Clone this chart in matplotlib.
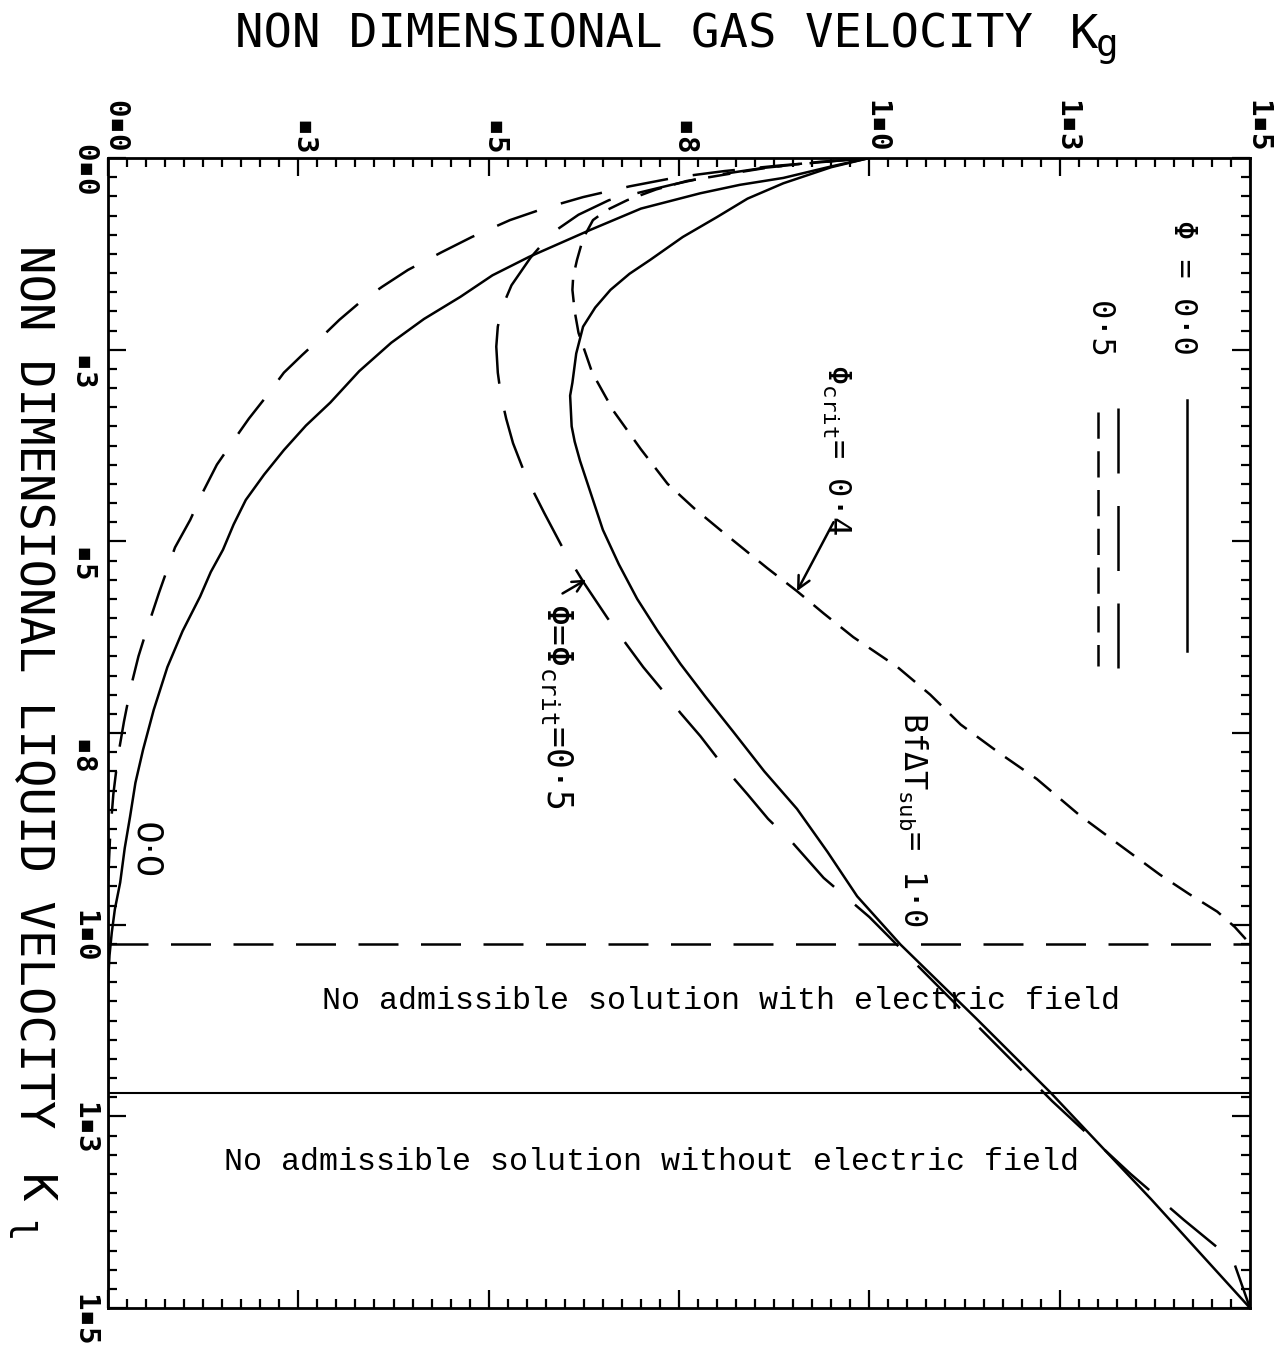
import numpy as np
import matplotlib
matplotlib.use("Agg")
import matplotlib.pyplot as plt
from matplotlib.ticker import MultipleLocator
from matplotlib.transforms import offset_copy

# ---------------- data (Kg, Kl) ----------------
# Phi = 0.0, outer curve (labelled 0.0)
kg_phi0_outer = [1.0, 0.95, 0.887, 0.83, 0.778, 0.70, 0.633, 0.553, 0.505, 0.463, 0.415, 0.372,
                 0.33, 0.292, 0.26, 0.231, 0.205, 0.181, 0.165, 0.151, 0.135, 0.121, 0.098,
                 0.078, 0.06, 0.046, 0.036, 0.029, 0.022, 0.016, 0.009, 0.005, 0.002, 0.0, 0.0]
kl_phi0_outer = [0.0, 0.011, 0.026, 0.035, 0.046, 0.066, 0.094, 0.129, 0.153, 0.181, 0.21, 0.241,
                 0.278, 0.319, 0.349, 0.381, 0.413, 0.446, 0.478, 0.511, 0.54, 0.572, 0.617,
                 0.664, 0.72, 0.772, 0.815, 0.859, 0.90, 0.945, 0.98, 1.01, 1.04, 1.076, 1.5]

# Phi = 0.5, outer curve
kg_phi5_outer = [1.0, 0.94, 0.88, 0.81, 0.748, 0.685, 0.624, 0.575, 0.528, 0.478, 0.438, 0.394,
                 0.360, 0.33, 0.304, 0.279, 0.255, 0.231, 0.204, 0.185, 0.168, 0.143, 0.125,
                 0.108, 0.088, 0.067, 0.051, 0.04, 0.03, 0.021, 0.013, 0.007, 0.003, 0.0, 0.0]
kl_phi5_outer = [0.0, 0.005, 0.01, 0.017, 0.025, 0.037, 0.051, 0.065, 0.081, 0.103, 0.123, 0.146,
                 0.168, 0.189, 0.211, 0.235, 0.257, 0.280, 0.316, 0.34, 0.364, 0.400, 0.435,
                 0.472, 0.508, 0.567, 0.615, 0.65, 0.69, 0.735, 0.781, 0.83, 0.88, 0.945, 1.5]

# Phi = 0.0, BfdTsub = 1.0
kg_phi0_sub = [1.0, 0.95, 0.887, 0.84, 0.800, 0.755, 0.712, 0.685, 0.660, 0.64, 0.624, 0.615,
               0.610, 0.607, 0.609, 0.613, 0.620, 0.635, 0.650, 0.671, 0.695, 0.722, 0.752,
               0.785, 0.821, 0.862, 0.905, 0.945, 0.984, 1.041, 1.14, 1.238, 1.37, 1.5]
kl_phi0_sub = [0.0, 0.012, 0.033, 0.053, 0.077, 0.103, 0.133, 0.151, 0.172, 0.195, 0.220, 0.255,
               0.293, 0.310, 0.35, 0.37, 0.395, 0.44, 0.485, 0.53, 0.575, 0.617, 0.660,
               0.703, 0.748, 0.80, 0.849, 0.905, 0.963, 1.026, 1.122, 1.219, 1.358, 1.5]

# Phi = Phi_crit = 0.5, BfdTsub = 1.0
kg_phi5_sub = [1.0, 0.93, 0.86, 0.80, 0.74, 0.69, 0.658, 0.618, 0.583, 0.555, 0.530, 0.518,
               0.512, 0.510, 0.512, 0.516, 0.523, 0.532, 0.55, 0.573, 0.598, 0.625, 0.656,
               0.68, 0.703, 0.728, 0.752, 0.778, 0.813, 0.84, 0.867, 0.899, 0.940, 1.00, 1.04,
               1.14, 1.24, 1.343, 1.413, 1.478, 1.5]
kl_phi5_sub = [0.0, 0.006, 0.013, 0.022, 0.035, 0.047, 0.055, 0.074, 0.098, 0.13, 0.166, 0.194,
               0.22, 0.246, 0.28, 0.309, 0.34, 0.372, 0.418, 0.463, 0.51, 0.554, 0.600,
               0.633, 0.664, 0.694, 0.724, 0.754, 0.799, 0.83, 0.862, 0.893, 0.939, 0.99, 1.03,
               1.13, 1.23, 1.325, 1.385, 1.438, 1.5]

# Phi_crit = 0.4
kg_crit4 = [1.0, 0.935, 0.87, 0.82, 0.76, 0.72, 0.682, 0.655, 0.637, 0.624, 0.616, 0.611,
            0.610, 0.613, 0.618, 0.636, 0.664, 0.70, 0.735, 0.77, 0.804, 0.835, 0.866, 0.905,
            0.94, 0.979, 1.037, 1.08, 1.120, 1.172, 1.22, 1.277, 1.33, 1.382, 1.42, 1.457, 1.48,
            1.5]
kl_crit4 = [0.0, 0.005, 0.012, 0.02, 0.03, 0.041, 0.055, 0.068, 0.081, 0.105, 0.133, 0.155,
            0.172, 0.20, 0.228, 0.28, 0.330, 0.38, 0.425, 0.457, 0.485, 0.51, 0.535, 0.565,
            0.594, 0.625, 0.664, 0.70, 0.739, 0.777, 0.81, 0.858, 0.897, 0.935, 0.96, 0.983,
            1.003, 1.025]

# limits of admissible solutions
kl_limit_with_field = 1.025
kl_limit_without_field = 1.219

# axis ticks
tick_values = [0.0, 0.25, 0.5, 0.75, 1.0, 1.25, 1.5]
tick_labels = ["0\u25aa0", " \u25aa3", " \u25aa5", " \u25aa8", "1\u25aa0", "1\u25aa3", "1\u25aa5"]

# ---------------- figure ----------------
plt.rcParams['mathtext.fontset'] = 'custom'
plt.rcParams['mathtext.rm'] = 'DejaVu Sans Mono'
plt.rcParams['mathtext.it'] = 'DejaVu Sans Mono'
plt.rcParams['mathtext.bf'] = 'DejaVu Sans Mono:bold'

W, H = 1284, 1352
fig = plt.figure(figsize=(W / 100, H / 100), dpi=100)
fig.patch.set_facecolor('white')
ax = fig.add_axes([108 / W, 1 - 1308 / H, (1250 - 108) / W, (1308 - 158) / H])
ax.set_xlim(0, 1.5)
ax.set_ylim(1.5, 0)

for s in ax.spines.values():
    s.set_linewidth(2.0)

ax.xaxis.set_major_locator(MultipleLocator(0.25))
ax.xaxis.set_minor_locator(MultipleLocator(0.025))
ax.yaxis.set_major_locator(MultipleLocator(0.25))
ax.yaxis.set_minor_locator(MultipleLocator(0.025))
ax.tick_params(which='both', direction='in', top=True, bottom=True, left=True, right=True,
               labelbottom=False, labelleft=False, labeltop=False, labelright=False)
ax.tick_params(which='major', length=13, width=1.6)
ax.tick_params(which='minor', length=6.5, width=1.6)

mono = ['DejaVu Sans Mono', 'DejaVu Sans']
tr_top = offset_copy(ax.get_xaxis_transform(), fig=fig, x=7, y=6, units='dots')
for v, lab in zip(tick_values, tick_labels):
    ax.text(v, 1.0, lab, transform=tr_top, rotation=-90, ha='center', va='bottom',
            family=mono, fontsize=21, fontweight='bold', clip_on=False)
tr_left = offset_copy(ax.get_yaxis_transform(), fig=fig, x=-10, y=-12, units='dots')
for v, lab in zip(tick_values, tick_labels):
    ax.text(0.0, v, lab, transform=tr_left, rotation=-90, ha='right', va='center',
            family=mono, fontsize=21, fontweight='bold', clip_on=False)

lw = 1.8
ax.plot(kg_phi0_outer, kl_phi0_outer, color='black', lw=lw)
ax.plot(kg_phi5_outer, kl_phi5_outer, color='black', lw=lw, dashes=(17, 10))
ax.plot(kg_phi0_sub, kl_phi0_sub, color='black', lw=lw)
ax.plot(kg_phi5_sub, kl_phi5_sub, color='black', lw=lw, dashes=(24, 11))
ax.plot(kg_crit4, kl_crit4, color='black', lw=lw, dashes=(9, 5))

ax.axhline(kl_limit_with_field, color='black', lw=lw, dashes=(16, 9))
ax.axhline(kl_limit_without_field, color='black', lw=1.5)

# legend samples
ax.plot([1.417, 1.417], [0.316, 0.643], color='black', lw=lw)
ax.plot([1.327, 1.327], [0.326, 0.673], color='black', lw=lw, dashes=(26, 13))
ax.plot([1.300, 1.300], [0.331, 0.662], color='black', lw=lw, dashes=(10.5, 5))

ann = dict(rotation=-90, rotation_mode='anchor', ha='left', va='baseline',
           family=mono, fontsize=23, color='black')
ax.text(1.400, 0.081, "\u03a6 = 0\u00b70", **ann)
ax.text(1.290, 0.186, "0\u00b75", **ann)
ax.text(0.945, 0.269, "\u03a6$_{\\mathrm{crit}}$= 0\u00b74", **ann)
ax.text(1.045, 0.722, "Bf\u0394T$_{\\mathrm{sub}}$= 1\u00b70", **ann)
ann5 = dict(ann)
ann5['fontsize'] = 25
ax.text(0.577, 0.580, "\u03a6=\u03a6$_{\\mathrm{crit}}$=0\u00b75", **ann5)
ax.text(0.035, 0.866, "0\u00b70", rotation=-90, rotation_mode='anchor', ha='left',
        va='baseline', family=['DejaVu Sans'], fontsize=26)

ax.annotate('', xy=(0.905, 0.565), xytext=(0.953, 0.475),
            arrowprops=dict(arrowstyle='->', lw=1.8, color='black', mutation_scale=22,
                            shrinkA=0, shrinkB=0))
ax.annotate('', xy=(0.628, 0.550), xytext=(0.597, 0.568),
            arrowprops=dict(arrowstyle='->', lw=1.8, color='black', mutation_scale=20,
                            shrinkA=0, shrinkB=0))

ax.text(0.281, 1.100, "No admissible solution with electric field", ha='left', va='center',
        family=['Liberation Mono', 'DejaVu Sans Mono'], fontsize=22.9)
ax.text(0.152, 1.309, "No admissible solution without electric field", ha='left', va='center',
        family=['Liberation Mono', 'DejaVu Sans Mono'], fontsize=22.9)

# axis titles
def fx(x):
    return x / W

def fy(y):
    return 1 - y / H

fig.text(fx(235), fy(48), "NON DIMENSIONAL GAS VELOCITY", family=mono, fontsize=34,
         ha='left', va='baseline')
fig.text(fx(1070), fy(48), "K", family=mono, fontsize=34, ha='left', va='baseline')
fig.text(fx(1096), fy(56), "g", family=mono, fontsize=27, ha='left', va='baseline')

fig.text(fx(20), fy(245), "NON DIMENSIONAL LIQUID VELOCITY", family=mono, fontsize=34,
         rotation=-90, rotation_mode='anchor', ha='left', va='baseline')
fig.text(fx(20), fy(1175), "K", family=mono, fontsize=34,
         rotation=-90, rotation_mode='anchor', ha='left', va='baseline')
fig.text(fx(6), fy(1220), "l", family=mono, fontsize=27,
         rotation=-90, rotation_mode='anchor', ha='left', va='baseline')

fig.savefig('out.png', dpi=100, facecolor='white')
